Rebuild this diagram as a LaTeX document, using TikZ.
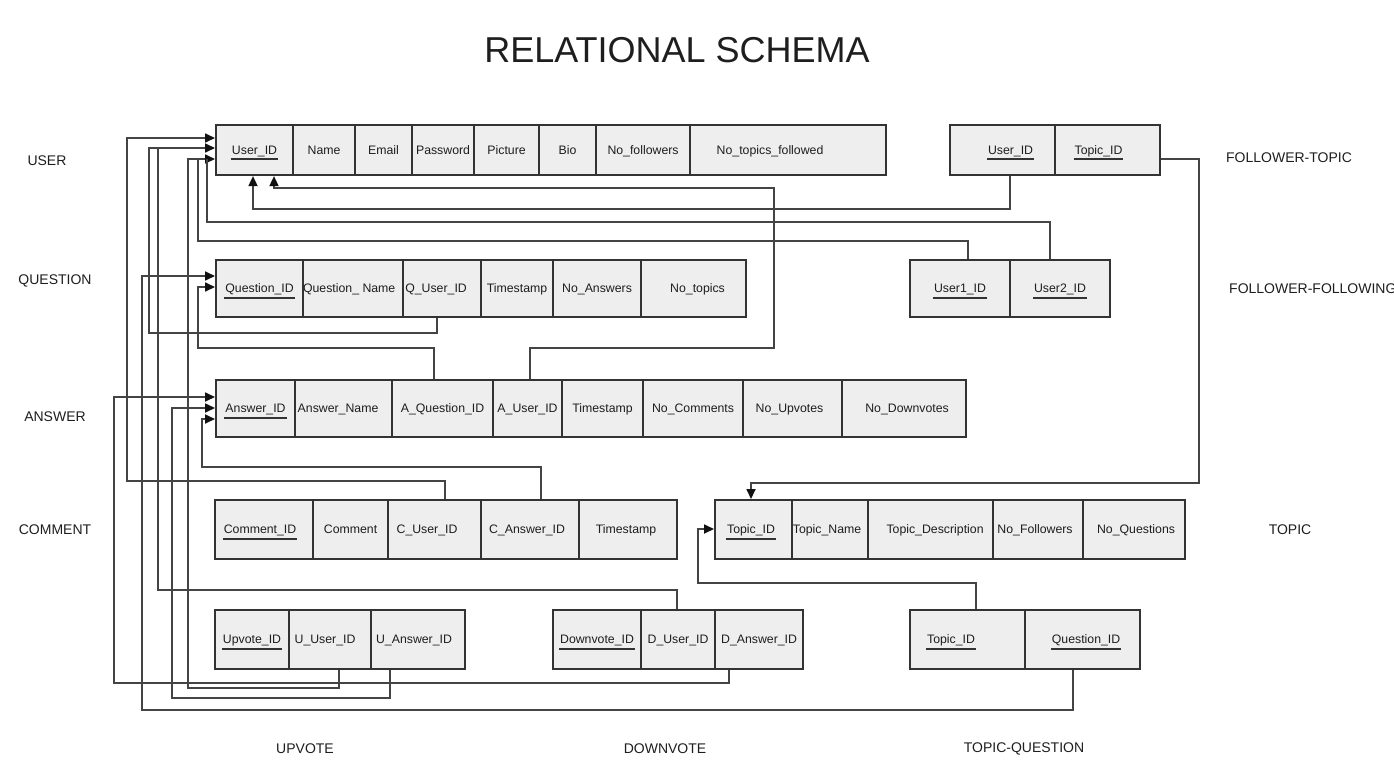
\documentclass[tikz,border=0pt]{standalone}
\usepackage{fontspec}
\setmainfont{Liberation Sans}
\usetikzlibrary{arrows.meta}
\definecolor{boxline}{HTML}{333333}
\definecolor{boxfill}{HTML}{EEEEEE}
\definecolor{connc}{HTML}{444444}
\definecolor{tipc}{HTML}{111111}
\definecolor{txtc}{HTML}{1E1E1E}
\newcommand\pk[1]{\setbox0=\hbox{#1}\leavevmode\rlap{\smash{\hspace*{-1pt}\raisebox{-6pt}{\color{boxline}\rule{\dimexpr\wd0+2pt\relax}{2pt}}}}\box0}
\newcommand\cellnode[5]{\node[cell, minimum width=#3pt, minimum height=#4pt] (#1) at (#2) {#5};}
\begin{document}
\begin{tikzpicture}[x=1pt,y=-1pt,
  cell/.style={draw=boxline, fill=boxfill, line width=2.1pt, inner sep=0pt, anchor=north west,
    text height=8.8pt, text depth=0pt, text=txtc, font=\fontsize{12.3}{14}\selectfont},
  tablbl/.style={text=txtc, font=\fontsize{14}{16}\selectfont, inner sep=0pt},
  conn/.style={draw=connc, line width=1.7pt},
  arr/.style={conn, -{Triangle[length=10pt,width=9pt,color=tipc]}}]
\useasboundingbox[fill=white] (0,0) rectangle (1394,776);

\node[text=txtc, font=\fontsize{36}{40}\selectfont, inner sep=0pt] (title) at (677,50) {RELATIONAL SCHEMA};

% labels
\node[tablbl] (lUser) at (47,161) {USER};
\node[tablbl] (lQuestion) at (55,281) {QUESTION};
\node[tablbl] (lAnswer) at (55,417) {ANSWER};
\node[tablbl] (lComment) at (55,530) {COMMENT};
\node[tablbl] (lFT) at (1289,158) {FOLLOWER-TOPIC};
\node[tablbl, anchor=west] (lFF) at (1229,289) {FOLLOWER-FOLLOWING};
\node[tablbl] (lTopic) at (1290,530) {TOPIC};
\node[tablbl] (lUpvote) at (305,749) {UPVOTE};
\node[tablbl] (lDownvote) at (665,749) {DOWNVOTE};
\node[tablbl] (lTQ) at (1024,749) {TOPIC-QUESTION};

% USER
\cellnode{u1}{215,124}{77}{50}{\pk{User\_ID}}
\cellnode{u2}{292,124}{62}{50}{Name}
\cellnode{u3}{354,124}{57}{50}{Email}
\cellnode{u4}{411,124}{62}{50}{Password}
\cellnode{u5}{473,124}{65}{50}{Picture}
\cellnode{u6}{538,124}{57}{50}{Bio}
\cellnode{u7}{595,124}{94}{50}{No\_followers}
\cellnode{u8}{689,124}{196}{50}{No\_topics\_followed\hspace*{36pt}}

% FOLLOWER-TOPIC
\cellnode{ft1}{949,124}{105}{50}{\hspace*{16pt}\pk{User\_ID}}
\cellnode{ft2}{1054,124}{105}{50}{\pk{Topic\_ID}\hspace*{18pt}}

% QUESTION
\cellnode{q1}{215,259}{87}{57}{\pk{Question\_ID}}
\cellnode{q2}{302,259}{100}{57}{Question\_ Name\hspace*{10pt}}
\cellnode{q3}{402,259}{78}{57}{Q\_User\_ID\hspace*{12pt}}
\cellnode{q4}{480,259}{72}{57}{Timestamp}
\cellnode{q5}{552,259}{88}{57}{No\_Answers}
\cellnode{q6}{640,259}{105}{57}{\hspace*{8pt}No\_topics}

% FOLLOWER-FOLLOWING
\cellnode{f1}{909,259}{100}{57}{\pk{User1\_ID}}
\cellnode{f2}{1009,259}{100}{57}{\pk{User2\_ID}}

% ANSWER
\cellnode{a1}{215,379}{79}{57}{\pk{Answer\_ID}}
\cellnode{a2}{294,379}{97}{57}{Answer\_Name\hspace*{11pt}}
\cellnode{a3}{391,379}{101}{57}{A\_Question\_ID}
\cellnode{a4}{492,379}{69}{57}{A\_User\_ID}
\cellnode{a5}{561,379}{81}{57}{Timestamp}
\cellnode{a6}{642,379}{100}{57}{No\_Comments}
\cellnode{a7}{742,379}{99}{57}{No\_Upvotes\hspace*{6pt}}
\cellnode{a8}{841,379}{124}{57}{\hspace*{6pt}No\_Downvotes}

% COMMENT
\cellnode{c1}{214,499}{98}{59}{\pk{Comment\_ID}\hspace*{8pt}}
\cellnode{c2}{312,499}{75}{59}{Comment}
\cellnode{c3}{387,499}{93}{59}{C\_User\_ID\hspace*{15pt}}
\cellnode{c4}{480,499}{98}{59}{C\_Answer\_ID\hspace*{6pt}}
\cellnode{c5}{578,499}{98}{59}{Timestamp\hspace*{4pt}}

% TOPIC
\cellnode{t1}{714,499}{77}{59}{\pk{Topic\_ID}\hspace*{5pt}}
\cellnode{t2}{791,499}{76}{59}{Topic\_Name\hspace*{6pt}}
\cellnode{t3}{867,499}{125}{59}{\hspace*{9pt}Topic\_Description}
\cellnode{t4}{992,499}{90}{59}{No\_Followers\hspace*{6pt}}
\cellnode{t5}{1082,499}{102}{59}{\hspace*{4pt}No\_Questions}

% UPVOTE
\cellnode{up1}{214,609}{74}{59}{\pk{Upvote\_ID}}
\cellnode{up2}{288,609}{82}{59}{U\_User\_ID\hspace*{10pt}}
\cellnode{up3}{370,609}{94}{59}{U\_Answer\_ID\hspace*{8pt}}

% DOWNVOTE
\cellnode{d1}{552,609}{88}{59}{\pk{Downvote\_ID}}
\cellnode{d2}{640,609}{74}{59}{D\_User\_ID}
\cellnode{d3}{714,609}{88}{59}{D\_Answer\_ID}

% TOPIC-QUESTION
\cellnode{tq1}{909,609}{115}{59}{\pk{Topic\_ID}\hspace*{33pt}}
\cellnode{tq2}{1024,609}{115}{59}{\hspace*{7pt}\pk{Question\_ID}}

% connectors to USER.User_ID (left side)
\draw[arr] (c3.north -| 445,0) |- (127,481) |- (u1.west |- 0,138);
\draw[arr] (q3.south -| 437,0) |- (149,333) |- (u1.west |- 0,148);
\draw[conn] (d2.north -| 677,0) |- (158,590) -- (158,148);
\draw[arr] (up2.south -| 339,0) |- (188,688) |- (u1.west |- 0,159);
\draw[conn] (f1.north -| 968,0) |- (198,241) -- (198,159);
\draw[conn] (f2.north -| 1050,0) |- (207,222) -- (207,159);

% connectors to USER.User_ID (bottom)
\draw[arr] (ft1.south -| 1010,0) |- (253,209) -- (u1.south -| 253,0);
\draw[arr] (a4.north -| 530,0) |- (774,348) |- (274,188) -- (u1.south -| 274,0);

% connectors to QUESTION.Question_ID
\draw[arr] (a3.north -| 434,0) |- (198,348) |- (q1.west |- 0,287);
\draw[arr] (tq2.south -| 1073,0) |- (142,710) |- (q1.west |- 0,276);

% connectors to ANSWER.Answer_ID
\draw[arr] (d3.south -| 729,0) |- (114,683) |- (a1.west |- 0,397);
\draw[arr] (up3.south -| 390,0) |- (172,698) |- (a1.west |- 0,408);
\draw[arr] (c4.north -| 541,0) |- (202,467) |- (a1.west |- 0,419);

% connectors to TOPIC.Topic_ID
\draw[arr] (ft2.east |- 0,159) -| (1199,483) -- (751,483) -- (t1.north -| 751,0);
\draw[arr] (tq1.north -| 976,0) |- (698,583) |- (t1.west |- 0,529);
\end{tikzpicture}
\end{document}
